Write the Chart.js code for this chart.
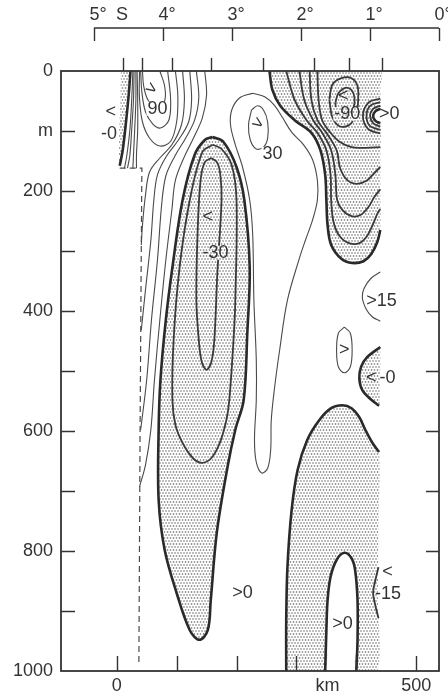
<!DOCTYPE html>
<html><head><meta charset="utf-8">
<script src="https://cdn.jsdelivr.net/npm/chart.js@4.4.1/dist/chart.umd.min.js"></script>
<style>html,body{margin:0;padding:0;background:#fff;}canvas{display:block;}</style>
</head><body>
<canvas id="c" width="448" height="696"></canvas>
<script>
// ===== axes =====
const depthTicks = [0,100,200,300,400,500,600,700,800,900,1000];
const kmTicks = [0,100,200,300,400,500];
const kmLabelled = {0:'0',500:'500'};
const kmUnitAt = 352;
const stations = [10,42,93,157,245,330,387,443];   // km, station marks on top frame
const latTicks = [5,4,3,2,1,0];
const latLabels = ['5°','4°','3°','2°','1°','0°'];

// ===== contour lines: [km, depth m] =====
// coastal westward strip (zero line)
const coastZero = [[23,0],[20,40],[15,90],[10,132],[5,158]];
const coastFill = [[7,0],[23,0],[20,40],[15,90],[10,132],[5,158],[4,120],[6,50],[7,0]];
// positive jet near surface
const fan1 = [[27,0],[25,48],[22,98],[17,140],[13,162]];
const fan2 = [[29,0],[28,48],[25,98],[22,140],[18,162]];
const fan3 = [[32,0],[32,48],[30,98],[28,140],[27,162]];
const fan4 = [[34,0],[35,48],[35,98],[33,140],[33,162]];
const jet60 = [[38,0],[38,45],[43,85],[55,112],[72,125],[90,117],[100,85],[102,40],[98,0]];
const jet75 = [[40,0],[42,35],[48,68],[60,88],[73,95],[87,82],[90,48],[85,0]];
const jet90 = [[43,0],[45,25],[52,48],[67,63],[80,50],[80,25],[72,0]];
const slope1 = [[110,0],[113,48],[108,90],[92,123],[72,145],[55,168],[48,207],[43,257],[41,290]];
const slope2 = [[122,0],[125,48],[120,85],[103,115],[83,142],[68,173],[62,215],[57,282],[48,365],[41,432]];
const slope3 = [[133,0],[137,45],[130,82],[115,112],[97,142],[82,175],[75,223],[68,315],[58,415],[50,515],[40,598]];
const slope4 = [[147,0],[150,40],[143,78],[128,112],[112,145],[98,182],[92,232],[82,315],[72,415],[63,515],[57,598],[48,657],[38,693]];
// big westward cell
const cellZero = [[160,110],[178,118],[200,160],[213,215],[222,327],[218,437],[212,548],[198,598],[185,660],[167,770],[157,882],[152,932],[138,948],[122,932],[100,870],[80,798],[70,715],[70,598],[73,515],[82,415],[93,327],[110,215],[130,140],[147,115],[160,110]];
const cellM15 = [[160,123],[143,135],[122,215],[105,327],[95,448],[93,548],[98,590],[110,620],[127,645],[142,653],[158,645],[172,620],[183,582],[188,548],[195,448],[198,382],[200,215],[192,157],[175,130],[160,123]];
const cellM30 = [[158,145],[147,152],[140,182],[135,270],[133,382],[137,448],[142,485],[150,498],[158,485],[163,448],[168,337],[175,215],[173,173],[168,153],[158,145]];
// positive tongue and 30 core
const pos15 = [[227,37],[247,43],[263,57],[277,78],[292,102],[312,123],[327,148],[335,182],[335,215],[327,248],[315,282],[305,312],[285,382],[272,465],[263,532],[258,582],[257,632],[252,662],[242,670],[233,652],[230,615],[233,548],[233,482],[229,382],[227,273],[222,215],[210,160],[198,123],[190,90],[192,65],[205,45],[227,37]];
const pos30 = [[225,65],[235,58],[245,65],[252,85],[252,112],[245,127],[233,130],[223,115],[220,90],[225,65]];
// upper right westward region
const trZero = [[255,0],[260,32],[273,58],[297,82],[325,103],[340,132],[348,173],[350,215],[352,257],[358,290],[375,313],[393,320],[412,317],[425,305],[435,285],[440,265]];
const trM15 = [[283,0],[297,48],[317,82],[335,103],[350,132],[357,173],[358,215],[362,252],[372,275],[388,287],[405,287],[418,275],[428,255],[435,238],[440,230]];
const trM30 = [[305,0],[313,48],[328,82],[343,103],[358,132],[365,173],[368,215],[377,232],[392,242],[407,240],[420,227],[430,210],[440,197]];
const trM45 = [[322,0],[325,48],[335,82],[350,103],[367,132],[373,162],[385,182],[400,188],[417,183],[430,170],[440,160]];
const trM60 = [[335,0],[337,48],[343,82],[357,103],[372,118],[392,127],[415,128],[440,127]];
const trM75 = [[355,48],[360,23],[375,12],[392,12],[402,25],[403,48],[400,72],[388,90],[372,92],[360,77],[355,48]];
const trM90 = [[365,53],[370,37],[382,28],[392,32],[397,45],[395,63],[387,77],[375,78],[367,68],[365,53]];
const cusp0 = [[440,63],[432,67],[428,75],[432,83],[440,87]];
const cuspA = [[440,58],[428,63],[423,75],[428,87],[440,93]];
const cuspB = [[440,52],[423,58],[417,75],[423,92],[440,98]];
const cuspC = [[440,46],[420,53],[411,75],[420,97],[440,104]];
const trFill = trZero.concat([[440,200],[440,140],[440,87],[432,83],[428,75],[432,67],[440,63],[440,30],[440,0],[350,0],[255,0]]);
// right side features
const pos15arc = [[440,335],[425,345],[413,362],[410,378],[417,398],[427,410],[440,417]];
const posSmall = [[380,427],[390,437],[393,465],[390,493],[380,503],[370,493],[367,465],[370,437],[380,427]];
const midZero = [[440,460],[418,477],[408,493],[405,512],[410,532],[425,548],[438,558]];
const midFill = midZero.concat([[439,530],[440,490],[440,460]]);
// lower right westward region
const lrZero = [[283,1000],[283,915],[285,827],[292,732],[302,665],[318,615],[338,582],[358,562],[377,557],[392,562],[405,577],[415,598],[427,620],[438,635]];
const tongue = [[348,1000],[350,932],[352,882],[357,843],[367,815],[380,803],[392,812],[398,832],[402,882],[402,948],[400,1000]];
const lrFill = lrZero.concat([[437,750],[436,880],[435,1000]], tongue.slice().reverse(), [[320,1000],[283,1000]]);
const lrM15 = [[437,827],[432,848],[428,870],[432,892],[437,912]];
// sea floor (dashed)
const seaFloor = [[5,162],[42,162],[41,300],[39,600],[37,990]];

// contour annotations [text, km, m, rotation deg, background]
const notes = [
  ['<',-10,68,0,null],['-0',-13,105,0,null],
  ['>',57,30,35,null],['90',68,63,0,'w'],
  ['>',235,88,35,null],['30',260,138,0,'w'],
  ['<',152,243,0,null],['-30',165,303,0,'p'],
  ['<',378,42,0,null],['-90',385,72,0,'p'],
  ['>0',455,72,0,null],['>15',442,383,0,null],['>',380,465,0,null],
  ['<',425,512,0,null],['-0',452,512,0,null],
  ['>0',210,870,0,null],['>0',377,922,0,null],
  ['<',452,835,0,null],['-15',453,872,0,null]
];

// ===== rendering =====
const ink = '#333333';
const FONT = '18px "Liberation Sans", Arial, sans-serif';
const cv = document.getElementById('c');
const mainCtx = cv.getContext('2d');
function makePattern(){
  const c = document.createElement('canvas'); c.width = 6; c.height = 6;
  const g = c.getContext('2d');
  g.fillStyle = '#ffffff'; g.fillRect(0,0,6,6);
  g.fillStyle = '#6c6c6c';
  [[1,1],[4,1],[2.5,4],[5.5,4],[-0.5,4]].forEach(([cx,cy]) => {
    g.beginPath(); g.arc(cx,cy,0.82,0,Math.PI*2); g.fill();
  });
  return mainCtx.createPattern(c,'repeat');
}
const dots = makePattern();
const pts = a => a.map(([x,y]) => ({x,y}));
const styles = {
  zero:{w:2.6,c:'#2a2a2a'}, neg:{w:1.8,c:'#3a3a3a'}, pos:{w:1.1,c:'#4a4a4a'}
};
function lineDS(a, kind, opt){
  return Object.assign({data:pts(a), showLine:true, pointRadius:0, borderColor:styles[kind].c,
    borderWidth:styles[kind].w, tension:0.35, fill:false, order:1}, opt||{});
}
function fillDS(a){
  return {data:pts(a), showLine:true, pointRadius:0, borderWidth:0, borderColor:'rgba(0,0,0,0)',
    backgroundColor:dots, fill:'shape', tension:0.35, order:5};
}
const datasets = [
  fillDS(coastFill), fillDS(cellZero), fillDS(trFill), fillDS(midFill), fillDS(lrFill),
  lineDS(coastZero,'zero'),
  lineDS(fan1,'pos'),lineDS(fan2,'pos'),lineDS(fan3,'pos'),lineDS(fan4,'pos'),
  lineDS(jet60,'pos'),lineDS(jet75,'pos'),lineDS(jet90,'pos'),
  lineDS(slope1,'pos'),lineDS(slope2,'pos'),lineDS(slope3,'pos'),lineDS(slope4,'pos'),
  lineDS(cellZero,'zero'),lineDS(cellM15,'neg'),lineDS(cellM30,'neg'),
  lineDS(pos15,'pos'),lineDS(pos30,'pos'),
  lineDS(trZero,'zero'),lineDS(trM15,'neg'),lineDS(trM30,'neg'),lineDS(trM45,'neg'),lineDS(trM60,'neg'),
  lineDS(trM75,'neg'),lineDS(trM90,'neg'),
  lineDS(cusp0,'zero'),lineDS(cuspA,'neg'),lineDS(cuspB,'neg'),lineDS(cuspC,'neg'),
  lineDS(pos15arc,'pos'),lineDS(posSmall,'pos'),
  lineDS(midZero,'zero'),
  lineDS(lrZero,'zero'),lineDS(tongue,'zero'),lineDS(lrM15,'neg'),
  lineDS(seaFloor,'pos',{tension:0,borderDash:[6,4],borderWidth:1.2,order:0})
];

const decor = {
  id:'decor',
  afterDatasetsDraw(chart){
    const {ctx, scales:{x,y}} = chart;
    ctx.save();
    ctx.font = FONT; ctx.textAlign = 'center'; ctx.textBaseline = 'middle';
    notes.forEach(([t,kx,my,rot,bg]) => {
      const px = x.getPixelForValue(kx), py = y.getPixelForValue(my);
      if (bg){
        const w = ctx.measureText(t).width + 2;
        ctx.fillStyle = bg === 'w' ? '#fff' : dots;
        ctx.fillRect(px - w/2, py - 7, w, 14);
      }
      ctx.fillStyle = ink;
      ctx.save(); ctx.translate(px, py); ctx.rotate(rot*Math.PI/180);
      ctx.fillText(t, 0, 0); ctx.restore();
    });
    ctx.restore();
  },
  afterDraw(chart){
    const {ctx, chartArea:ca, scales:{x,y,lat}} = chart;
    ctx.save();
    ctx.strokeStyle = ink; ctx.fillStyle = ink;
    ctx.lineWidth = 1.8;
    ctx.strokeRect(ca.left, ca.top, ca.right-ca.left, ca.bottom-ca.top);
    ctx.lineWidth = 1.4;
    ctx.beginPath();
    depthTicks.forEach(v => {
      if (v === 0 || v === 1000) return;
      const py = Math.round(y.getPixelForValue(v)) + 0.5;
      ctx.moveTo(ca.left, py); ctx.lineTo(ca.left + 14, py);
      ctx.moveTo(ca.right, py); ctx.lineTo(ca.right - 13, py);
    });
    kmTicks.forEach(v => {
      const px = Math.round(x.getPixelForValue(v)) + 0.5;
      ctx.moveTo(px, ca.bottom); ctx.lineTo(px, ca.bottom - 15);
    });
    stations.forEach(v => {
      const px = Math.round(x.getPixelForValue(v)) + 0.5;
      ctx.moveTo(px, ca.top); ctx.lineTo(px, ca.top - 13);
    });
    // latitude axis
    const yl = ca.top - 43;
    ctx.moveTo(lat.getPixelForValue(5), yl); ctx.lineTo(lat.getPixelForValue(0), yl);
    latTicks.forEach(v => {
      const px = Math.round(lat.getPixelForValue(v)) + 0.5;
      ctx.moveTo(px, yl); ctx.lineTo(px, yl + 13);
    });
    ctx.stroke();
    ctx.font = FONT; ctx.textAlign = 'center'; ctx.textBaseline = 'middle';
    latTicks.forEach((v,i) => ctx.fillText(latLabels[i], lat.getPixelForValue(v) + 4, yl - 13));
    ctx.fillText('S', lat.getPixelForValue(5) + 28, yl - 13);
    ctx.fillText('km', x.getPixelForValue(kmUnitAt), ca.bottom + 15);
    ctx.restore();
  }
};

new Chart(cv, {
  type:'scatter',
  data:{datasets},
  plugins:[decor],
  options:{
    responsive:false, animation:false, events:[], devicePixelRatio:1,
    layout:{padding:{top:71, right:9, left:0, bottom:0}},
    plugins:{legend:{display:false}, tooltip:{enabled:false}, filler:{propagate:false}},
    scales:{
      x:{type:'linear', position:'bottom', min:-93, max:538,
        grid:{display:false, drawTicks:false}, border:{display:false},
        afterBuildTicks:s => { s.ticks = kmTicks.map(v => ({value:v})); },
        afterFit:s => { s.height = 25; },
        ticks:{autoSkip:false, maxRotation:0, padding:4, color:ink, font:{family:'"Liberation Sans", Arial, sans-serif', size:18},
          callback:v => kmLabelled[v] || ''}},
      y:{type:'linear', position:'left', reverse:true, min:0, max:1000,
        grid:{display:false, drawTicks:false}, border:{display:false},
        afterBuildTicks:s => { s.ticks = depthTicks.map(v => ({value:v})); },
        afterFit:s => { s.width = 61; },
        ticks:{autoSkip:false, padding:8, color:ink, font:{family:'"Liberation Sans", Arial, sans-serif', size:18},
          callback:v => v === 100 ? 'm' : (v % 200 === 0 ? String(v) : '')}},
      lat:{type:'linear', position:'top', display:false, min:0, max:5.478, reverse:true}
    }
  }
});
</script>
</body></html>
